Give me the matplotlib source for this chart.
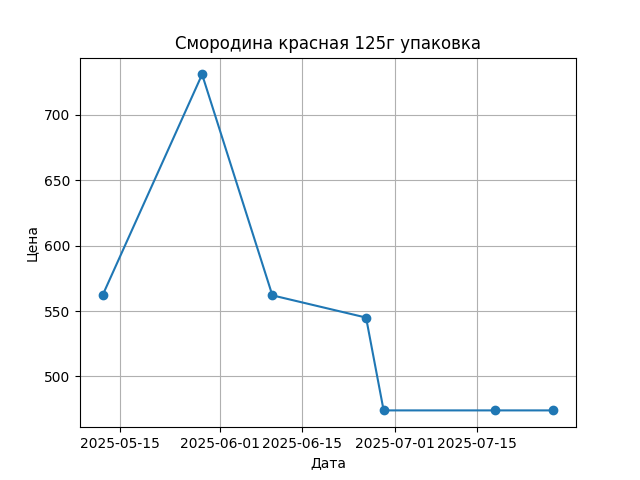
import matplotlib
matplotlib.use("Agg")
import matplotlib.pyplot as plt
import pandas as pd

dates = ["2025-05-12", "2025-05-29", "2025-06-10", "2025-06-26",
         "2025-06-29", "2025-07-18", "2025-07-28"]
prices = [562, 731, 562, 545, 474, 474, 474]

title = "Смородина красная 125г упаковка"
xlabel = "Дата"
ylabel = "Цена"

x = pd.to_datetime(dates)

fig, ax = plt.subplots(figsize=(6.4, 4.8), dpi=100)
ax.plot(x, prices, marker="o")
ax.set_title(title)
ax.set_xlabel(xlabel)
ax.set_ylabel(ylabel)
ax.grid(True)
fig.savefig("out.png")
